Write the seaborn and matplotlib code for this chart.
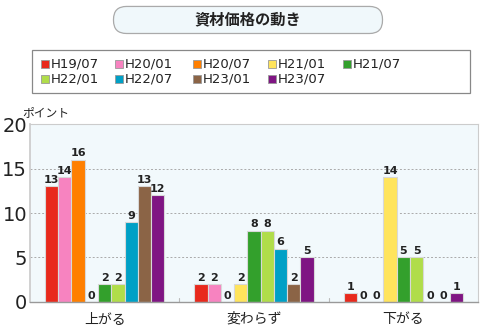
import matplotlib
matplotlib.use("Agg")
import matplotlib.pyplot as plt
import seaborn as sns
import pandas as pd
from matplotlib.patches import FancyBboxPatch, Rectangle

categories = ["上がる", "変わらず", "下がる"]
series = ["H19/07", "H20/01", "H20/07", "H21/01", "H21/07", "H22/01", "H22/07", "H23/01", "H23/07"]
v_h19_07 = [13, 2, 1]
v_h20_01 = [14, 2, 0]
v_h20_07 = [16, 0, 0]
v_h21_01 = [0, 2, 14]
v_h21_07 = [2, 8, 5]
v_h22_01 = [2, 8, 5]
v_h22_07 = [9, 6, 0]
v_h23_01 = [13, 2, 0]
v_h23_07 = [12, 5, 1]
values = [v_h19_07, v_h20_01, v_h20_07, v_h21_01, v_h21_07, v_h22_01, v_h22_07, v_h23_01, v_h23_07]
colors = ["#e8291c", "#f783c0", "#ff7f00", "#ffe45c", "#33a02c", "#b0dd4a", "#00a0c6", "#8b6446", "#7f1583"]
yticks = [0, 5, 10, 15, 20]

rows = []
for s, vals in zip(series, values):
    for c, v in zip(categories, vals):
        rows.append({"cat": c, "series": s, "val": v})
df = pd.DataFrame(rows)

sns.set_theme(style="white")
plt.rcParams['font.family'] = ['Noto Sans CJK JP', 'DejaVu Sans']

fig = plt.figure(figsize=(5, 3.3), dpi=100)
ax = fig.add_axes([0.06, 0.085, 0.896, 0.539])
ax.set_facecolor("#f2f9fc")

sns.barplot(data=df, x="cat", y="val", hue="series", order=categories, hue_order=series,
            palette=colors, width=0.8, ax=ax, edgecolor="#d8d8d8", linewidth=0.8,
            legend=False, saturation=1)

for cont in ax.containers:
    ax.bar_label(cont, fmt="%d", padding=1, fontsize=8, fontweight="bold", color="#222222",
                 family="DejaVu Sans")

ax.set_ylim(0, 20)
ax.set_xlim(-0.5, 2.5)
ax.set_yticks(yticks)
ax.set_yticklabels([str(t) for t in yticks], fontsize=14, color="#222222", family="DejaVu Sans")
ax.yaxis.grid(True, linestyle=(0, (2, 2)), color="#aaaaaa", linewidth=0.7)
ax.set_axisbelow(True)
ax.set_xlabel("")
ax.set_ylabel("")
ax.tick_params(axis="x", length=0, labelsize=10, pad=7, colors="#222222")
ax.tick_params(axis="y", length=0, pad=2)
for sp in ["top", "right"]:
    ax.spines[sp].set_color("#cccccc")
    ax.spines[sp].set_linewidth(0.8)
ax.spines["left"].set_color("#cccccc")
ax.spines["bottom"].set_color("#999999")
ax.spines["bottom"].set_linewidth(1.0)
for b in [0.5, 1.5]:
    ax.plot([b, b], [0, 0.4], color="#bbbbbb", lw=0.8, clip_on=False)

fig.text(0.044, 0.66, "ポイント", fontsize=8.5, color="#222222", ha="left", va="center")

# Title box (pixel-scaled helper axes)
tax = fig.add_axes([0.226, 0.897, 0.54, 0.085])
tax.set_xlim(0, 270)
tax.set_ylim(0, 28)
tax.axis("off")
tb = FancyBboxPatch((0.5, 0.5), 269, 27, boxstyle="round,pad=0,rounding_size=13",
                    facecolor="#f0f8fb", edgecolor="#aaaaaa", lw=0.9, clip_on=False)
tax.add_patch(tb)
tax.text(135, 14.5, "資材価格の動き", fontsize=11, fontweight="bold", ha="center", va="center", color="#222222")

# Legend box
lb = Rectangle((0.064, 0.718), 0.876, 0.13, transform=fig.transFigure, facecolor="white",
               edgecolor="#888888", lw=0.9)
fig.patches.append(lb)
col_x = [0.09, 0.238, 0.394, 0.544, 0.694]
row_y = [0.806, 0.76]
for i, (s, c) in enumerate(zip(series, colors)):
    r, k = divmod(i, 5)
    x, y = col_x[k], row_y[r]
    sq = Rectangle((x - 0.008, y - 0.0125), 0.016, 0.025, transform=fig.transFigure, facecolor=c,
                   edgecolor="#999999", lw=0.6)
    fig.patches.append(sq)
    fig.text(x + 0.011, y, s, fontsize=9.5, ha="left", va="center", color="#222222", family="DejaVu Sans")

fig.savefig("out.png", dpi=100)
